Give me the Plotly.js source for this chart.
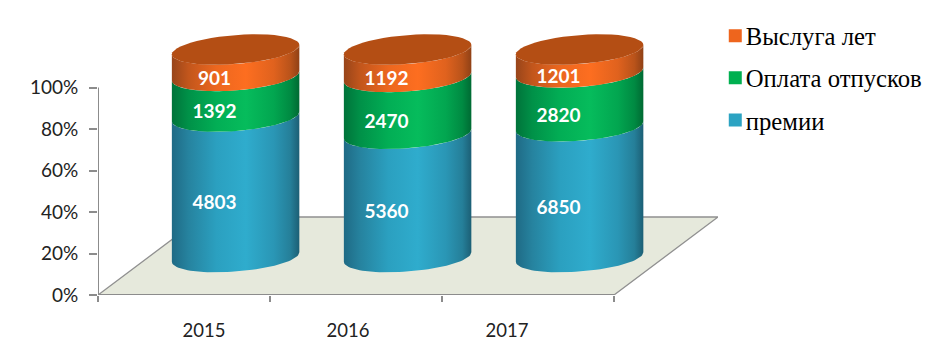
<!DOCTYPE html>
<html>
<head>
<meta charset="utf-8">
<script src="https://cdn.plot.ly/plotly-3.0.1.min.js"></script>
<style>html,body{margin:0;padding:0;background:#fff}#chart{width:951px;height:357px}</style>
</head>
<body>
<div id="chart"></div>
<script>
var categories = ['2015', '2016', '2017'];
var premii = [4803, 5360, 6850];
var otpusk = [1392, 2470, 2820];
var vysluga = [901, 1192, 1201];
var seriesNames = ['премии', 'Оплата отпусков', 'Выслуга лет'];
var yTickVals = [0, 0.2, 0.4, 0.6, 0.8, 1];
var yTickText = ['0%', '20%', '40%', '60%', '80%', '100%'];

var legendColors = ['#2CA3C2', '#00B050', '#EE651D'];
var capColor = '#B44E14';
var sideScales = [
  [[0,'#1F6A85'],[0.13,'#26839F'],[0.35,'#2BA0C0'],[0.58,'#2FACCD'],[0.8,'#2A96B5'],[0.93,'#257F99'],[1,'#1C5F75']],
  [[0,'#00733A'],[0.13,'#009148'],[0.35,'#02AE55'],[0.58,'#06BC5C'],[0.8,'#02A650'],[0.93,'#008A42'],[1,'#006A33']],
  [[0,'#98451A'],[0.13,'#C2561C'],[0.35,'#EC671F'],[0.58,'#FD6E20'],[0.8,'#E0621E'],[0.93,'#B9531A'],[1,'#904116']]
];

// projection constants (axis units)
var unitPx = 172, fullPx = 207.5;
var slotOffset = 0.8, radiusX = 0.3706, radiusY = 0.07, tilt = 0.023, lift = 0.183;
var labelDx = -21 / unitPx, labelDy = -17.5 / fullPx;
var floorDepthX = 104 / unitPx, floorDepthY = 78 / fullPx;

function arc(cx, cy, from, to) {
  var xs = [], ys = [], n = 48;
  for (var i = 0; i <= n; i++) {
    var t = from + (to - from) * i / n;
    xs.push(cx + radiusX * Math.cos(t));
    ys.push(cy + radiusY * Math.sin(t) + tilt * Math.cos(t));
  }
  return {x: xs, y: ys};
}

var traces = [];
// floor
traces.push({type:'scatter', mode:'lines', x:[0,3,3+floorDepthX,floorDepthX,0], y:[0,0,floorDepthY,floorDepthY,0],
  fill:'toself', fillcolor:'#E6E9DC', line:{color:'#909090', width:1.3}, hoverinfo:'skip', showlegend:false, cliponaxis:false});

var series = [premii, otpusk, vysluga];
var labelX = [], labelY = [], labelT = [];
categories.forEach(function (c, i) {
  var total = premii[i] + otpusk[i] + vysluga[i], acc = 0, cx = i + slotOffset;
  series.forEach(function (vals, s) {
    var lo = acc / total, hi = (acc + vals[i]) / total;
    acc += vals[i];
    var bottom = arc(cx, lift + lo, Math.PI, 2 * Math.PI);
    var top = arc(cx, lift + hi, 2 * Math.PI, Math.PI);
    traces.push({type:'scatter', mode:'lines', x:bottom.x.concat(top.x), y:bottom.y.concat(top.y),
      fill:'toself', fillgradient:{type:'horizontal', colorscale:sideScales[s]}, line:{width:0, color:'rgba(0,0,0,0)'},
      hoverinfo:'skip', showlegend:false, cliponaxis:false});
    labelX.push(cx + labelDx);
    labelY.push(lift + (lo + hi) / 2 - 0 + labelDy);
    labelT.push(String(vals[i]));
  });
  var cap = arc(cx, lift + 1, 0, 2 * Math.PI);
  traces.push({type:'scatter', mode:'lines', x:cap.x, y:cap.y, fill:'toself', fillcolor:capColor,
    line:{width:0, color:capColor}, hoverinfo:'skip', showlegend:false, cliponaxis:false});
});

// value labels
traces.push({type:'scatter', mode:'text', x:labelX, y:labelY, text:labelT, textposition:'middle center',
  textfont:{family:'Lato, Carlito, sans-serif', size:19, color:'#fff', weight:700}, hoverinfo:'skip', showlegend:false, cliponaxis:false});

// axis lines on tick-mark axis
traces.push({type:'scatter', mode:'lines', x:[0,3], y:[0,0], xaxis:'x2', yaxis:'y', line:{color:'#8C8C8C', width:2}, hoverinfo:'skip', showlegend:false, cliponaxis:false});
traces.push({type:'scatter', mode:'lines', x:[0,0], y:[0,1], xaxis:'x2', yaxis:'y', line:{color:'#8C8C8C', width:2}, hoverinfo:'skip', showlegend:false, cliponaxis:false});

// legend entries
[2, 1, 0].forEach(function (s) {
  traces.push({type:'scatter', mode:'markers', x:[null], y:[null], name:seriesNames[s], legendgroup:'g'+s,
    marker:{symbol:'square', size:13, color:legendColors[s]}, hoverinfo:'skip'});
});

var xRange = [0, 620 / unitPx], yRange = [0, 270 / fullPx];
var layout = {
  width:951, height:357, autosize:false,
  margin:{l:98, r:233, t:25, b:62, pad:0, autoexpand:false},
  paper_bgcolor:'#fff', plot_bgcolor:'rgba(0,0,0,0)', hovermode:false,
  xaxis:{type:'linear', range:xRange, showgrid:false, zeroline:false, showline:false, tickmode:'array',
    tickvals:[0.616, 1.453, 2.378], ticktext:categories, ticks:'', ticklabelstandoff:22,
    tickfont:{family:'Lato, Carlito, sans-serif', size:18.5, color:'#222'}},
  xaxis2:{type:'linear', range:xRange, overlaying:'x', anchor:'y', side:'bottom', showgrid:false, zeroline:false, showline:false,
    tickmode:'array', tickvals:[0,1,2,3], ticktext:['','','',''], ticks:'outside', ticklen:6, tickwidth:2, tickcolor:'#8C8C8C', showticklabels:false},
  yaxis:{type:'linear', range:yRange, showgrid:false, zeroline:false, showline:false, tickmode:'array',
    tickvals:yTickVals, ticktext:yTickText, ticks:'outside', ticklen:8, tickwidth:2, tickcolor:'#8C8C8C', ticklabelstandoff:7,
    tickfont:{family:'Lato, Carlito, sans-serif', size:19, color:'#222'}},
  showlegend:true,
  legend:{x:0.994, xanchor:'left', y:1.044, yanchor:'top', xref:'paper', yref:'paper', bgcolor:'rgba(0,0,0,0)', borderwidth:0,
    tracegroupgap:7, indentation:-8.5, itemclick:false, itemdoubleclick:false,
    font:{family:'"Liberation Serif", serif', size:24.7, color:'#000'}}
};
Plotly.newPlot('chart', traces, layout, {displayModeBar:false, staticPlot:true}).then(function () {
  // legend keys sit closer to their text than the library's fixed gap
  document.querySelectorAll('.legend .legendsymbols').forEach(function (el) {
    el.setAttribute('transform', 'translate(9.5,0)');
  });
});
</script>
</body>
</html>
